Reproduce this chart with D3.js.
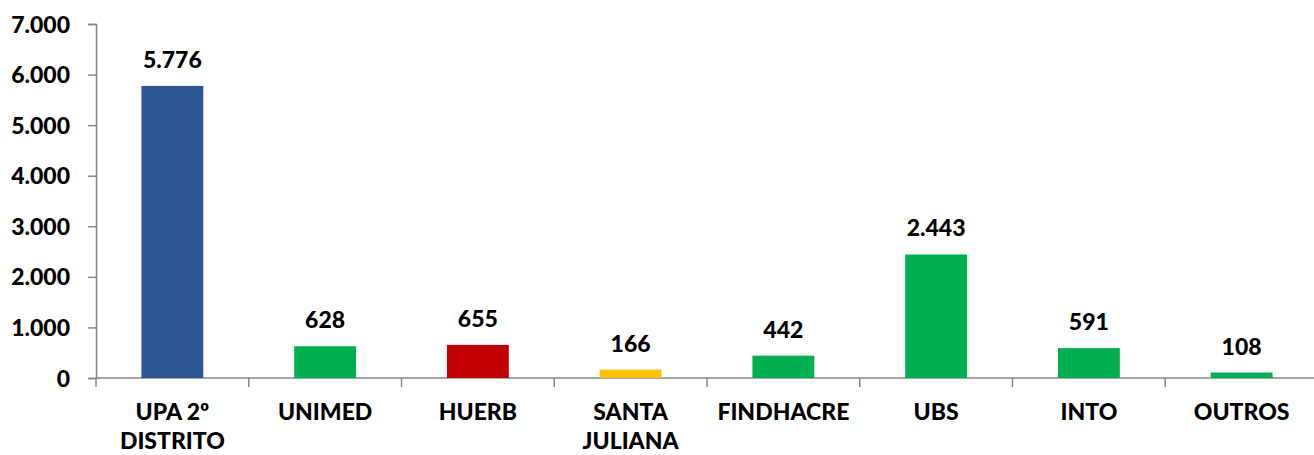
<!DOCTYPE html>
<html>
<head>
<meta charset="utf-8">
<script src="https://cdn.jsdelivr.net/npm/d3@7"></script>
<style>
  body { margin: 0; background: #fff; }
  svg text { font-family: Lato, "Open Sans", sans-serif; font-weight: 900; fill: #000; }
</style>
</head>
<body>
<svg></svg>
<script>
var categories = [["UPA 2º", "DISTRITO"], ["UNIMED"], ["HUERB"], ["SANTA", "JULIANA"], ["FINDHACRE"], ["UBS"], ["INTO"], ["OUTROS"]];
var values = [5776, 628, 655, 166, 442, 2443, 591, 108];
var barColors = ["#2F5597", "#00B050", "#C00000", "#FFC000", "#00B050", "#00B050", "#00B050", "#00B050"];
var yTicks = [0, 1000, 2000, 3000, 4000, 5000, 6000, 7000];

var width = 1314;
var height = 455;
var margin = { left: 96, right: -4, top: 24, bottom: 77 };

var fmt = d3.formatLocale({ decimal: ",", thousands: ".", grouping: [3], currency: ["R$", ""] }).format(",d");

var svg = d3.select("svg").attr("width", width).attr("height", height);

var x = d3
  .scaleBand()
  .domain(d3.range(values.length))
  .range([margin.left, width - margin.right])
  .paddingInner(0.595)
  .paddingOuter(0.2975);

var y = d3
  .scaleLinear()
  .domain([0, 7000])
  .range([height - margin.bottom, margin.top]);

// y axis
var yAxis = svg
  .append("g")
  .attr("transform", `translate(${margin.left},0)`)
  .call(d3.axisLeft(y).tickValues(yTicks).tickFormat(fmt).tickSize(8).tickPadding(18));
yAxis.select(".domain").attr("stroke", "#888").attr("stroke-width", 1.5);
yAxis.selectAll(".tick line").attr("stroke", "#888").attr("stroke-width", 1.5);
yAxis.selectAll("text").style("font-size", "23px").attr("dy", "0.35em");

// x axis line + ticks at band boundaries
var step = x.step();
var bounds = d3.range(values.length + 1).map((i) => margin.left + i * step);
svg
  .append("line")
  .attr("x1", margin.left)
  .attr("x2", width)
  .attr("y1", y(0))
  .attr("y2", y(0))
  .attr("stroke", "#888")
  .attr("stroke-width", 1.5);
svg
  .selectAll(".xtick")
  .data(bounds)
  .enter()
  .append("line")
  .attr("x1", (d) => d)
  .attr("x2", (d) => d)
  .attr("y1", y(0))
  .attr("y2", y(0) + 9)
  .attr("stroke", "#888")
  .attr("stroke-width", 1.5);

// bars
svg
  .selectAll(".bar")
  .data(values)
  .enter()
  .append("rect")
  .attr("x", (d, i) => x(i))
  .attr("width", x.bandwidth())
  .attr("y", (d) => y(d))
  .attr("height", (d) => y(0) - y(d))
  .attr("fill", (d, i) => barColors[i]);

// value labels
svg
  .selectAll(".val")
  .data(values)
  .enter()
  .append("text")
  .attr("x", (d, i) => x(i) + x.bandwidth() / 2)
  .attr("y", (d) => y(d) - 18)
  .attr("text-anchor", "middle")
  .style("font-size", "23px")
  .text((d) => fmt(d));

// category labels
var cat = svg
  .selectAll(".cat")
  .data(categories)
  .enter()
  .append("text")
  .attr("text-anchor", "middle")
  .style("font-size", "23px")
  .attr("transform", (d, i) => `translate(${x(i) + x.bandwidth() / 2},${y(0) + 42})`);
cat
  .selectAll("tspan")
  .data((d) => d)
  .enter()
  .append("tspan")
  .attr("x", 0)
  .attr("dy", (d, i) => (i === 0 ? 0 : 29))
  .text((d) => d);
</script>
</body>
</html>
